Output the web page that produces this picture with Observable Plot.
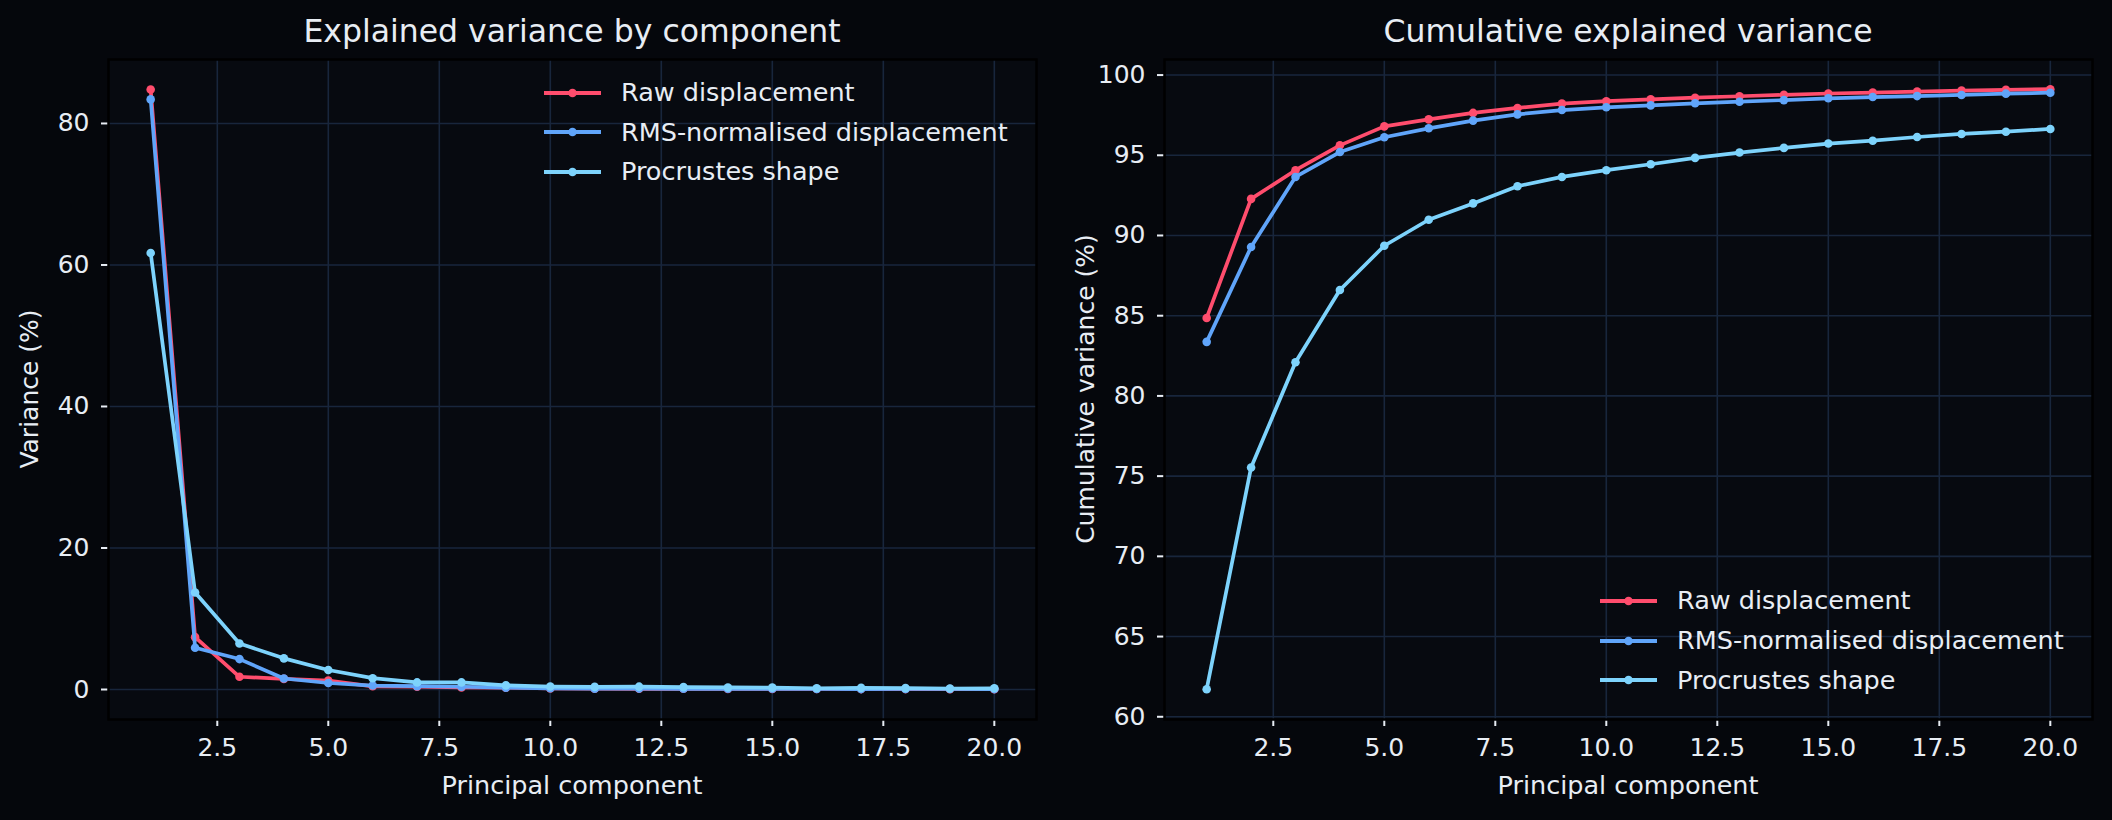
<!DOCTYPE html>
<html>
<head>
<meta charset="utf-8">
<script src="https://cdn.jsdelivr.net/npm/d3@7"></script>
<script src="https://cdn.jsdelivr.net/npm/@observablehq/plot@0.6"></script>
<style>
  html, body { margin: 0; padding: 0; background: #05070c; }
  #root { position: relative; width: 2112px; height: 820px; background: #05070c; overflow: hidden;
          font-family: "DejaVu Sans", sans-serif; color: #e8edf4; }
  .ttl { position: absolute; font-size: 31.5px; line-height: 1; white-space: nowrap; transform: translateX(-50%); }
  .xl { position: absolute; font-size: 25.5px; line-height: 1; white-space: nowrap; transform: translateX(-50%); }
  .yl { position: absolute; font-size: 25px; line-height: 1; white-space: nowrap; transform: translate(-50%,-50%) rotate(-90deg); }
  .leg { position: absolute; }
  .leg .row { display: flex; align-items: center; height: 39.7px; }
  .leg .row span { margin-left: 20px; font-size: 25.5px; line-height: 1; white-space: nowrap; }
</style>
</head>
<body>
<div id="root"></div>
<script>
// ---- data ----
const components = [1,2,3,4,5,6,7,8,9,10,11,12,13,14,15,16,17,18,19,20];
const seriesNames = ["Raw displacement", "RMS-normalised displacement", "Procrustes shape"];
const seriesColors = ["#ff4d6d", "#60a5fa", "#7dd3fc"];

// explained variance per component (%)
const rawVar  = [84.8, 7.4, 1.8, 1.5, 1.25, 0.45, 0.4, 0.3, 0.25, 0.15, 0.12, 0.1, 0.1, 0.09, 0.08, 0.07, 0.06, 0.06, 0.05, 0.04];
const rmsVar  = [83.4, 5.9, 4.3, 1.55, 0.92, 0.56, 0.48, 0.39, 0.27, 0.17, 0.12, 0.13, 0.1, 0.1, 0.1, 0.08, 0.06, 0.07, 0.08, 0.06];
const procVar = [61.7, 13.7, 6.5, 4.4, 2.75, 1.6, 1.0, 1.0, 0.58, 0.42, 0.37, 0.4, 0.33, 0.29, 0.27, 0.18, 0.23, 0.19, 0.14, 0.17];

// cumulative explained variance (%)
const rawCum  = [84.86, 92.28, 94.07, 95.62, 96.8, 97.24, 97.64, 97.95, 98.22, 98.37, 98.49, 98.59, 98.68, 98.77, 98.85, 98.91, 98.97, 99.03, 99.08, 99.12];
const rmsCum  = [83.37, 89.28, 93.65, 95.2, 96.12, 96.68, 97.16, 97.55, 97.82, 97.99, 98.11, 98.24, 98.34, 98.44, 98.55, 98.63, 98.69, 98.76, 98.84, 98.9];
const procCum = [61.72, 75.54, 82.1, 86.6, 89.36, 90.98, 92.0, 93.07, 93.65, 94.07, 94.44, 94.84, 95.17, 95.46, 95.73, 95.91, 96.14, 96.33, 96.47, 96.64];

// ticks
const xTicks = [2.5, 5.0, 7.5, 10.0, 12.5, 15.0, 17.5, 20.0];
const yTicksLeft = [0, 20, 40, 60, 80];
const yTicksRight = [60, 65, 70, 75, 80, 85, 90, 95, 100];

const titles = ["Explained variance by component", "Cumulative explained variance"];
const xLabel = "Principal component";
const yLabels = ["Variance (%)", "Cumulative variance (%)"];

// ---- build ----
const GRID = "#18263c";
const TXT = "#e8edf4";

function rows(vals) { return components.map((c, i) => ({pc: c, v: vals[i]})); }

function panel(seriesVals, yDomain, yTicks) {
  const marks = [
    Plot.frame({fill: "#070a10"}),
    Plot.gridX(xTicks, {stroke: GRID, strokeOpacity: 1, strokeWidth: 1.6}),
    Plot.gridY(yTicks, {stroke: GRID, strokeOpacity: 1, strokeWidth: 1.6}),
    Plot.axisX(xTicks, {tickSize: 7, tickPadding: 12, strokeWidth: 2, color: TXT, fontSize: 25,
                        tickFormat: d3.format(".1f"), label: null}),
    Plot.axisY(yTicks, {tickSize: 7, tickPadding: 12, strokeWidth: 2, color: TXT, fontSize: 25,
                        tickFormat: d => String(d), label: null})
  ];
  seriesVals.forEach((vals, i) => {
    const data = rows(vals);
    marks.push(Plot.line(data, {x: "pc", y: "v", stroke: seriesColors[i], strokeWidth: 3.7}));
    marks.push(Plot.dot(data, {x: "pc", y: "v", fill: seriesColors[i], r: 4.3}));
  });
  marks.push(Plot.frame({stroke: "#000", strokeWidth: 2.5}));
  return Plot.plot({
    width: 1056, height: 820,
    marginLeft: 108, marginRight: 20, marginTop: 59, marginBottom: 101,
    style: {background: "transparent", color: TXT, fontFamily: "DejaVu Sans", fontSize: "25px", maxWidth: "none"},
    x: {domain: [0.05, 20.95]},
    y: {domain: yDomain},
    marks
  });
}

const root = document.getElementById("root");

const p1 = panel([rawVar, rmsVar, procVar], [-4.24, 89.04], yTicksLeft);
const p2 = panel([rawCum, rmsCum, procCum], [59.83, 100.97], yTicksRight);
[p1, p2].forEach((p, i) => {
  p.style.position = "absolute";
  p.style.left = (i * 1056) + "px";
  p.style.top = "0px";
  root.appendChild(p);
});

const centers = [572, 1628];
titles.forEach((t, i) => {
  const d = document.createElement("div");
  d.className = "ttl"; d.textContent = t;
  d.style.left = centers[i] + "px"; d.style.top = "16px";
  root.appendChild(d);
  const xl = document.createElement("div");
  xl.className = "xl"; xl.textContent = xLabel;
  xl.style.left = centers[i] + "px"; xl.style.top = "772.5px";
  root.appendChild(xl);
  const yl = document.createElement("div");
  yl.className = "yl"; yl.textContent = yLabels[i];
  yl.style.left = (29 + i * 1056) + "px"; yl.style.top = "389px";
  root.appendChild(yl);
});

function legend(left, top) {
  const L = document.createElement("div");
  L.className = "leg";
  L.style.left = left + "px"; L.style.top = top + "px";
  seriesNames.forEach((name, i) => {
    const r = document.createElement("div");
    r.className = "row";
    r.innerHTML = `<svg width="57" height="12" style="display:block"><line x1="0" y1="6" x2="57" y2="6" stroke="${seriesColors[i]}" stroke-width="4"/><circle cx="28.5" cy="6" r="4.3" fill="${seriesColors[i]}"/></svg><span></span>`;
    r.querySelector("span").textContent = name;
    L.appendChild(r);
  });
  root.appendChild(L);
}
legend(544, 92.7 - 19.85);
legend(1600, 601 - 19.85);
</script>
</body>
</html>
